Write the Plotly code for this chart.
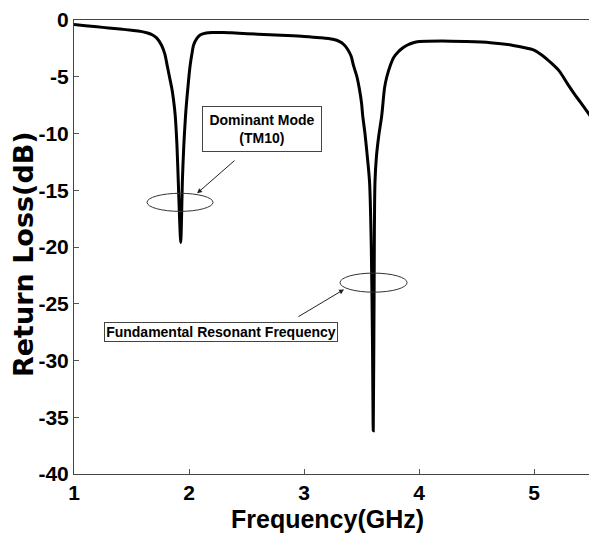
import plotly.graph_objects as go

# ---- data ----
freq_ghz = [1.00, 1.10, 1.20, 1.30, 1.40, 1.50, 1.58, 1.64, 1.68, 1.72, 1.76, 1.79, 1.81, 1.83,
            1.85, 1.865, 1.88, 1.895, 1.907, 1.918, 1.928, 1.935, 1.942, 1.955, 1.97, 1.98, 1.99,
            2.00, 2.01, 2.025, 2.04, 2.07, 2.10, 2.15, 2.20, 2.30, 2.40, 2.60, 2.80, 3.00, 3.14,
            3.25, 3.31, 3.35, 3.38, 3.41, 3.43, 3.46, 3.48, 3.50, 3.51, 3.53, 3.55, 3.57, 3.585,
            3.595, 3.602, 3.609, 3.617, 3.63, 3.65, 3.676, 3.70, 3.72, 3.75, 3.78, 3.82, 3.86,
            3.90, 3.95, 4.00, 4.20, 4.40, 4.62, 4.80, 4.90, 5.00, 5.07, 5.14, 5.22, 5.29, 5.35,
            5.40, 5.45, 5.50]
return_loss_db = [-0.4, -0.5, -0.6, -0.7, -0.8, -0.9, -1.0, -1.15, -1.3, -1.6, -2.2, -3.0, -4.0, -5.0,
                  -6.0, -7.0, -8.4, -11.0, -14.3, -17.5, -19.6, -17.5, -14.3, -11.0, -8.4, -7.1, -6.0,
                  -4.9, -4.0, -3.0, -2.2, -1.6, -1.3, -1.15, -1.1, -1.1, -1.15, -1.25, -1.35, -1.45, -1.56,
                  -1.7, -1.9, -2.2, -2.6, -3.2, -4.0, -5.0, -6.0, -7.3, -8.4, -10.0, -12.0, -14.3, -20.0,
                  -28.0, -36.2, -25.0, -14.3, -12.0, -10.2, -8.4, -6.0, -5.0, -4.0, -3.3, -2.8, -2.45,
                  -2.2, -2.0, -1.9, -1.85, -1.9, -2.0, -2.2, -2.4, -2.65, -3.1, -3.7, -4.5, -5.6, -6.5,
                  -7.2, -7.9, -8.6]

x_tickvals = [1, 2, 3, 4, 5]
x_ticktext = ["1", "2", "3", "4", "5"]
y_tickvals = [0, -5, -10, -15, -20, -25, -30, -35, -40]
y_ticktext = ["0", "-5", "-10", "-15", "-20", "-25", "-30", "-35", "-40"]

x_title = "Frequency(GHz)"
y_title = "Return Loss(dB)"
label_dominant = "Dominant Mode<br>(TM10)"
label_fundamental = "Fundamental Resonant Frequency"

FONT = "Liberation Sans, Arial, sans-serif"
W, H = 589, 536
ML, MR, MT, MB = 74, 0, 20, 62

fig = go.Figure()
fig.add_trace(go.Scatter(
    x=freq_ghz, y=return_loss_db, mode="lines",
    line=dict(color="black", width=3, shape="spline", smoothing=0.8),
    showlegend=False, hoverinfo="skip",
))

# ellipses
fig.add_shape(type="circle", xref="x", yref="y", x0=1.635, x1=2.209, y0=-15.27, y1=-16.86,
              line=dict(color="#333333", width=1))
fig.add_shape(type="circle", xref="x", yref="y", x0=3.313, x1=3.896, y0=-22.3, y1=-23.98,
              line=dict(color="#333333", width=1))

# arrows
fig.add_annotation(x=2.07, y=-15.27, ax=2.409, ay=-12.27, xref="x", yref="y", axref="x", ayref="y",
                   text="", showarrow=True, arrowhead=2, arrowsize=1, arrowwidth=1, arrowcolor="#222222")
fig.add_annotation(x=3.348, y=-23.74, ax=2.939, ay=-26.21, xref="x", yref="y", axref="x", ayref="y",
                   text="", showarrow=True, arrowhead=2, arrowsize=1, arrowwidth=1, arrowcolor="#222222")

# text boxes
fig.add_annotation(x=2.635, y=-9.62, xref="x", yref="y", text="<b>" + label_dominant + "</b>",
                   showarrow=False, font=dict(family=FONT, size=14, color="black"),
                   bordercolor="#444444", borderwidth=1, borderpad=2, bgcolor="white",
                   width=114, height=40, align="center")
fig.add_annotation(x=2.274, y=-27.45, xref="x", yref="y", text="<b>" + label_fundamental + "</b>",
                   showarrow=False, font=dict(family=FONT, size=14, color="black"),
                   bordercolor="#444444", borderwidth=1, borderpad=1, bgcolor="white",
                   width=230, height=16, align="center")

# axis titles as paper annotations (precise placement)
pw, ph = W - ML - MR, H - MT - MB
def px_to_paper(px, py):
    return (px - ML) / pw, 1 - (py - MT) / ph

tx, ty = px_to_paper(327, 519)
fig.add_annotation(x=tx, y=ty, xref="paper", yref="paper", text="<b>" + x_title + "</b>",
                   showarrow=False, xanchor="center", yanchor="middle",
                   font=dict(family=FONT, size=25, color="black"))
tx, ty = px_to_paper(23, 254)
fig.add_annotation(x=tx, y=ty, xref="paper", yref="paper", text="<b>" + y_title + "</b>",
                   showarrow=False, xanchor="center", yanchor="middle", textangle=-90,
                   font=dict(family="DejaVu Sans", size=27, color="black"))

fig.update_layout(
    width=W, height=H,
    margin=dict(l=ML, r=MR, t=MT, b=MB),
    paper_bgcolor="white", plot_bgcolor="white",
    showlegend=False,
)
fig.update_xaxes(
    range=[1, 5.478], tickvals=x_tickvals, ticktext=["<b>" + t + "</b>" for t in x_ticktext],
    ticks="inside", ticklen=5, tickcolor="#555555", tickwidth=1,
    showline=True, linecolor="#444444", linewidth=1, mirror=True,
    showgrid=False, zeroline=False,
    tickfont=dict(family=FONT, size=21, color="black"),
)
fig.update_yaxes(
    range=[-40, 0], tickvals=y_tickvals, ticktext=["<b>" + t + "</b>" for t in y_ticktext],
    ticks="inside", ticklen=5, tickcolor="#555555", tickwidth=1,
    showline=True, linecolor="#444444", linewidth=1, mirror=True,
    showgrid=False, zeroline=False,
    tickfont=dict(family=FONT, size=21, color="black"),
)

fig.write_html("out.html")
